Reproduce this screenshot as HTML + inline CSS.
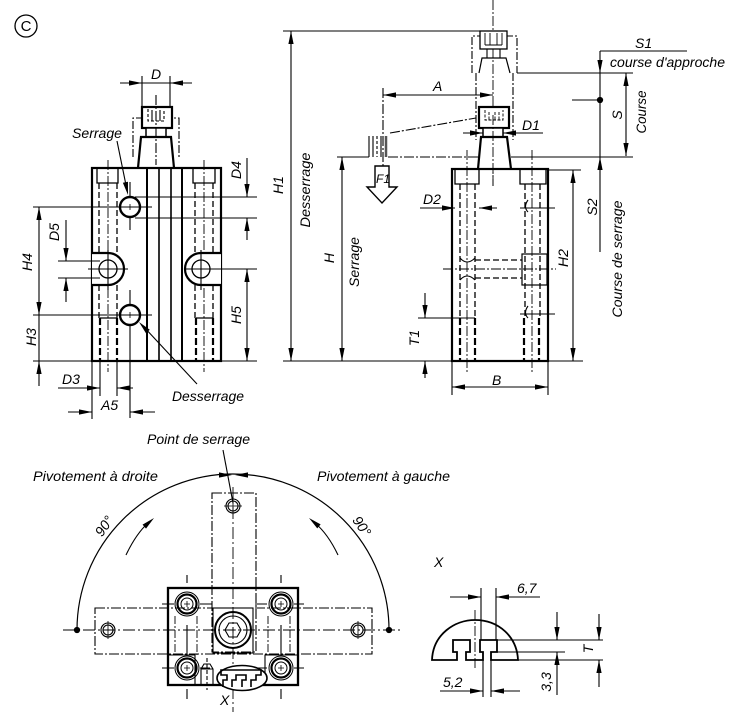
<!DOCTYPE html>
<html><head><meta charset="utf-8"><style>
html,body{margin:0;padding:0;background:#fff;}
svg{display:block;}
text{font-family:"Liberation Sans",sans-serif;font-style:italic;font-size:14px;fill:#000;stroke:none;}
</style></head><body>
<svg width="750" height="718" viewBox="0 0 750 718" xmlns="http://www.w3.org/2000/svg" xmlns:xlink="http://www.w3.org/1999/xlink">
<defs>
<path id="ah" d="M0,0 L-13,-2.6 L-13,2.6 Z" fill="#000" stroke="none"/>
</defs>
<g stroke="#000" fill="none" stroke-width="1.1">

<circle cx="26" cy="26" r="11" stroke-width="1.3"/>
<text x="26" y="31" text-anchor="middle" style="font-style:normal;font-size:15px">C</text>

<!-- LEFT VIEW -->
<line x1="142" y1="76" x2="142" y2="106"/>
<line x1="170" y1="76" x2="170" y2="106"/>
<line x1="120" y1="83" x2="192" y2="83"/>
<text x="151" y="79">D</text>
<path d="M133,157 L133,118 L179,118 L179,157" stroke-dasharray="8,2,2,2"/>
<rect x="142" y="107" width="30" height="21" stroke-width="2.2" fill="#fff"/>
<path d="M148,109 L148,121 L164,121 L164,109" stroke-dasharray="3,2"/>
<path d="M152,110v11M160,110v11"/>
<rect x="146" y="128" width="20" height="9" stroke-width="1.5" fill="#fff"/>
<path d="M138,168 L141,137 L171,137 L174,168" stroke-width="2.2" fill="#fff"/>
<line x1="156" y1="95" x2="156" y2="165" stroke-dasharray="10,2,2,2"/>
<rect x="92" y="168" width="129" height="193" stroke-width="2.2"/>
<path d="M147,168V361M182,168V361" stroke-width="2"/>
<path d="M159,168V361M171,168V361" stroke-width="1.6"/>
<path d="M97,168 L97,183 L118,183 L118,168 M193,168 L193,183 L215,183 L215,168" stroke-width="1.3"/>
<path d="M99,183V253M117,183V253M99,285V318M117,285V318M195,183V253M213,183V253M195,285V318M213,285V318" stroke-dasharray="6,3" stroke-width="1.3"/>
<path d="M100,318V361M117,318V361M196,318V361M213,318V361" stroke-dasharray="7,3" stroke-width="2.2"/>
<path d="M100,318H117M196,318H213" stroke-width="1.2"/>
<path d="M108,160V372M204,160V372" stroke-dasharray="10,2,2,2" stroke-width="0.9"/>
<path d="M92,253 L108,253 A16,16 0 0 1 108,285 L92,285" stroke-width="2.2" fill="#fff"/>
<circle cx="108" cy="269" r="9" stroke-width="1.3"/>
<path d="M221,253 L201,253 A16,16 0 0 0 201,285 L221,285" stroke-width="2.2" fill="#fff"/>
<circle cx="201" cy="269" r="9" stroke-width="1.3"/>
<path d="M88,269H128M108,250V290M185,269H257M201,250V290"/>
<circle cx="130" cy="207" r="10" stroke-width="2.4" fill="#fff"/>
<circle cx="130" cy="315" r="10" stroke-width="2.4" fill="#fff"/>
<path d="M127,207h6M130,204v6M127,315h6M130,312v6" stroke-width="0.8"/>
<path d="M130,182V196M130,218V230M130,290V304M130,326V418"/>
<text x="72" y="138" textLength="50" lengthAdjust="spacingAndGlyphs">Serrage</text>
<line x1="117" y1="141" x2="127" y2="190"/>
<text x="172" y="401" textLength="72" lengthAdjust="spacingAndGlyphs">Desserrage</text>
<line x1="197" y1="384" x2="143" y2="326"/>
<path d="M135,197H257M135,218H257M247,158V197M247,240V218"/>
<text transform="translate(236,170) rotate(-90)" text-anchor="middle" dominant-baseline="central">D4</text>
<path d="M221,361H257M247,269V361"/>
<text transform="translate(236,315) rotate(-90)" text-anchor="middle" dominant-baseline="central">H5</text>
<path d="M33,207H152M33,315H152M33,361H92M39,207V386"/>
<text transform="translate(27,262) rotate(-90)" text-anchor="middle" dominant-baseline="central">H4</text>
<text transform="translate(31,337) rotate(-90)" text-anchor="middle" dominant-baseline="central">H3</text>
<path d="M58,261H100M58,278H100M66,220V261M66,302V278"/>
<text transform="translate(54,232) rotate(-90)" text-anchor="middle" dominant-baseline="central">D5</text>
<path d="M100,361V396M117,361V396M58,388H100M133,388H117"/>
<text x="62" y="384">D3</text>
<path d="M92,361V419M68,412H92M155,412H130"/>
<text x="101" y="410">A5</text>

<!-- RIGHT VIEW -->
<line x1="493" y1="0" x2="493" y2="186" stroke-dasharray="10,2,2,2" stroke-width="0.9"/>
<path d="M472,73 L472,36 L517,36 L517,73" stroke-dasharray="8,2,2,2"/>
<rect x="480" y="31" width="27" height="18" stroke-width="1.3" fill="#fff"/>
<path d="M485,33v12M490,33v12M497,33v12M502,33v12M485,45h17" stroke-width="0.9"/>
<path d="M487,49v9M500,49v9"/>
<path d="M479,73 L482,58 L506,58 L510,73" stroke-width="1.2"/>
<path d="M476,73V140M513,73V140" stroke-dasharray="8,2,2,2"/>
<line x1="283" y1="31" x2="480" y2="31"/>
<rect x="479" y="107" width="30" height="21" stroke-width="2.2" fill="#fff"/>
<path d="M485,110v10h18v-10M489,112v8M495,112v8M499,112v8" stroke-dasharray="3,1.5" stroke-width="0.9"/>
<rect x="483" y="128" width="20" height="9" stroke-width="1.5" fill="#fff"/>
<path d="M478,169 L481,137 L507,137 L511,169" stroke-width="2.2" fill="#fff"/>
<line x1="493" y1="115" x2="493" y2="186" stroke-dasharray="10,2,2,2" stroke-width="0.9"/>
<line x1="390" y1="133" x2="476" y2="118" stroke-dasharray="10,2,2,2"/>
<path d="M369,136v21M373,136v21M381,136v21"/>
<line x1="377" y1="136" x2="377" y2="157" stroke-dasharray="3,2"/>
<line x1="386" y1="136" x2="386" y2="157" stroke="#555" stroke-width="2.5"/>
<line x1="383" y1="88" x2="383" y2="166" stroke-dasharray="10,2,2,2"/>
<line x1="383" y1="95" x2="493" y2="95"/>
<text x="433" y="91">A</text>
<path d="M337,157H369M511,157H633"/>
<line x1="388" y1="157" x2="478" y2="157" stroke-dasharray="10,2,2,2"/>
<path d="M375,166 L389,166 L389,187 L397,187 L382,203 L367,187 L375,187 Z" stroke-width="1.4" fill="#fff"/>
<text x="376" y="183" style="font-size:12px">F1</text>
<path d="M463,133H483M543,133H503"/>
<text x="522" y="130">D1</text>
<rect x="452" y="169" width="96" height="192" stroke-width="2.2"/>
<path d="M455,169 L455,184 L479,184 L479,169 M520,169 L520,184 L546,184 L546,169" stroke-width="1.3"/>
<path d="M460,184V318M475,184V318M525,184V318M540,184V318M475,260H522M475,278H522" stroke-dasharray="6,3" stroke-width="1.3"/>
<path d="M460,318V361M475,318V361M524,318V361M539,318V361" stroke-dasharray="7,3" stroke-width="2.2"/>
<path d="M460,258 Q467,266 475,258 M460,280 Q467,272 475,280"/>
<path d="M467,150V372M532,150V372M443,269H556" stroke-dasharray="10,2,2,2" stroke-width="0.9"/>
<rect x="522" y="254" width="25" height="31" stroke-width="1.2"/>
<path d="M520,208H555M520,314H555"/>
<path d="M528,200 q-5,7 0,12 M528,306 q-5,7 0,12"/>
<path d="M420,208H455M497,208H479"/>
<text x="423" y="204">D2</text>
<path d="M283,361H452M548,361H583M291,31V361"/>
<text transform="translate(278,185) rotate(-90)" text-anchor="middle" dominant-baseline="central">H1</text>
<text transform="translate(305,190) rotate(-90)" text-anchor="middle" dominant-baseline="central" textLength="75" lengthAdjust="spacingAndGlyphs">Desserrage</text>
<line x1="342" y1="157" x2="342" y2="361"/>
<text transform="translate(329,258) rotate(-90)" text-anchor="middle" dominant-baseline="central">H</text>
<text transform="translate(354,262) rotate(-90)" text-anchor="middle" dominant-baseline="central" textLength="50" lengthAdjust="spacingAndGlyphs">Serrage</text>
<path d="M418,318H475M425,293V318M425,378V361"/>
<text transform="translate(414,338) rotate(-90)" text-anchor="middle" dominant-baseline="central">T1</text>
<path d="M452,361V395M548,361V395M452,387H548"/>
<text x="492" y="385">B</text>
<path d="M548,170H581M573,170V361"/>
<text transform="translate(563,258) rotate(-90)" text-anchor="middle" dominant-baseline="central">H2</text>
<path d="M517,73H633M600,51H687M600,51V252M572,100H600M626,73V156"/>
<circle cx="600" cy="100" r="2.6" fill="#000"/>
<text x="635" y="48">S1</text>
<text x="610" y="67" textLength="115" lengthAdjust="spacingAndGlyphs">course d'approche</text>
<text transform="translate(617,115) rotate(-90)" text-anchor="middle" dominant-baseline="central">S</text>
<text transform="translate(641,112) rotate(-90)" text-anchor="middle" dominant-baseline="central" textLength="43" lengthAdjust="spacingAndGlyphs">Course</text>
<text transform="translate(592,207) rotate(-90)" text-anchor="middle" dominant-baseline="central">S2</text>
<text transform="translate(617,259) rotate(-90)" text-anchor="middle" dominant-baseline="central" textLength="117" lengthAdjust="spacingAndGlyphs">Course de serrage</text>

<!-- BOTTOM VIEW -->
<text x="147" y="444" textLength="103" lengthAdjust="spacingAndGlyphs">Point de serrage</text>
<text x="33" y="481" textLength="125" lengthAdjust="spacingAndGlyphs">Pivotement à droite</text>
<text x="317" y="481" textLength="133" lengthAdjust="spacingAndGlyphs">Pivotement à gauche</text>
<path d="M77,630 A156,156 0 0 1 389,630" stroke-width="1.2"/>
<circle cx="77" cy="630" r="2.6" fill="#000"/>
<circle cx="389" cy="630" r="2.6" fill="#000"/>
<line x1="223" y1="450" x2="233" y2="503"/>
<text transform="translate(104,526) rotate(-55)" text-anchor="middle" dominant-baseline="central">90°</text>
<text transform="translate(362,526) rotate(55)" text-anchor="middle" dominant-baseline="central">90°</text>
<path d="M126,555 Q136,534 148,523 M338,555 Q328,534 315,523"/>
<path d="M63,630H403M233,487V712" stroke-dasharray="12,3,2,3" stroke-width="0.9"/>
<rect x="212" y="493" width="44" height="159" stroke-dasharray="10,2,2,2"/>
<rect x="95" y="608" width="277" height="46" stroke-dasharray="10,2,2,2"/>
<circle cx="233" cy="506" r="7"/><circle cx="233" cy="506" r="5"/>
<circle cx="108" cy="630" r="7"/><circle cx="108" cy="630" r="5"/>
<circle cx="358" cy="630" r="7"/><circle cx="358" cy="630" r="5"/>
<path d="M233,497v18M224,506h18M108,621v18M358,621v18" stroke-width="0.8"/>
<rect x="168" y="588" width="130" height="97" stroke-width="2.3"/>
<rect x="213" y="608" width="40" height="45"/>
<circle cx="233" cy="630" r="18" stroke-width="2"/>
<circle cx="233" cy="630" r="14"/>
<polygon points="241,630 237,637 229,637 225,630 229,623 237,623"/>
<path d="M230,630h6M233,627v6" stroke-width="0.8"/>
<g id="bolt">
<circle cx="187" cy="604" r="12" stroke-width="1"/><circle cx="187" cy="604" r="9.5" stroke-width="2.2"/><circle cx="187" cy="604" r="6" stroke-width="1"/>
<path d="M184,604h6M187,601v6" stroke-width="0.8"/>
</g>
<use xlink:href="#bolt" href="#bolt" transform="translate(94,0)"/>
<use xlink:href="#bolt" href="#bolt" transform="translate(0,64)"/>
<use xlink:href="#bolt" href="#bolt" transform="translate(94,64)"/>
<path d="M187,583v-8M187,625v30M187,689v10M281,583v-8M281,625v30M281,689v10"/>
<path d="M162,604h12M200,604h12M255,604h12M294,604h10M162,668h12M200,668h10M255,668h12M294,668h10"/>
<path d="M168,655h27v30M298,655h-33v30"/>
<path d="M175,616V655M197,616V655M268,616V655M290,616V655" stroke-dasharray="8,2,2,2" stroke-width="0.9"/>
<path d="M201,684 L201,669 L204,664 L210,664 L213,669 L213,684 M201,669H213"/>
<line x1="207" y1="658" x2="207" y2="690" stroke-dasharray="4,2"/>
<ellipse cx="242" cy="678" rx="25" ry="12.5" stroke-width="1.6" fill="#fff"/>
<path d="M223,687 L223,680 L227,680 L227,675 L221,675 L221,670 L261,670 L261,675 L256,675 L256,680 L251,680 L251,687 M232,687 L232,680 L236,680 L236,675 L246,675 L246,680 L242,680 L242,687" stroke-width="1.6"/>
<text x="220" y="705">X</text>

<!-- DETAIL X -->
<text x="434" y="567">X</text>
<path d="M432,660 C433,634 455,620 475,620 C499,620 517,637 518,660 L491,660 L491,652 L497,652 L497,640 L480,640 L480,652 L483,652 L483,660 L466,660 L466,652 L470,652 L470,640 L453,640 L453,652 L457,652 L457,660 Z" stroke-width="1.8" fill="#fff"/>
<line x1="475" y1="610" x2="475" y2="668" stroke-dasharray="10,2,2,2" stroke-width="0.9"/>
<path d="M481,588V640M496,588V640M450,597H481M540,597H496"/>
<text x="517" y="593">6,7</text>
<path d="M483,652V697M491,652V697M440,691H483M520,691H491"/>
<text x="443" y="687">5,2</text>
<path d="M497,640H603M491,652H565M518,660H603M557,612V640M557,695V652M599,614V640M599,687V660"/>
<text transform="translate(546,682) rotate(-90)" text-anchor="middle" dominant-baseline="central">3,3</text>
<text transform="translate(588,649) rotate(-90)" text-anchor="middle" dominant-baseline="central">T</text>
</g>

<!-- arrowheads: translate(tip) rotate(direction) -->
<g>
<use href="#ah" xlink:href="#ah" transform="translate(142,83)"/>
<use href="#ah" xlink:href="#ah" transform="translate(170,83) rotate(180)"/>
<use href="#ah" xlink:href="#ah" transform="translate(128,195) rotate(78.5)"/>
<use href="#ah" xlink:href="#ah" transform="translate(139,322) rotate(-133)"/>
<use href="#ah" xlink:href="#ah" transform="translate(247,197) rotate(90)"/>
<use href="#ah" xlink:href="#ah" transform="translate(247,218) rotate(-90)"/>
<use href="#ah" xlink:href="#ah" transform="translate(247,269) rotate(-90)"/>
<use href="#ah" xlink:href="#ah" transform="translate(247,361) rotate(90)"/>
<use href="#ah" xlink:href="#ah" transform="translate(39,207) rotate(-90)"/>
<use href="#ah" xlink:href="#ah" transform="translate(39,315) rotate(90)"/>
<use href="#ah" xlink:href="#ah" transform="translate(39,361) rotate(-90)"/>
<use href="#ah" xlink:href="#ah" transform="translate(66,261) rotate(90)"/>
<use href="#ah" xlink:href="#ah" transform="translate(66,278) rotate(-90)"/>
<use href="#ah" xlink:href="#ah" transform="translate(100,388)"/>
<use href="#ah" xlink:href="#ah" transform="translate(117,388) rotate(180)"/>
<use href="#ah" xlink:href="#ah" transform="translate(92,412)"/>
<use href="#ah" xlink:href="#ah" transform="translate(130,412) rotate(180)"/>
<use href="#ah" xlink:href="#ah" transform="translate(383,95) rotate(180)"/>
<use href="#ah" xlink:href="#ah" transform="translate(493,95)"/>
<use href="#ah" xlink:href="#ah" transform="translate(483,133)"/>
<use href="#ah" xlink:href="#ah" transform="translate(503,133) rotate(180)"/>
<use href="#ah" xlink:href="#ah" transform="translate(455,208)"/>
<use href="#ah" xlink:href="#ah" transform="translate(479,208) rotate(180)"/>
<use href="#ah" xlink:href="#ah" transform="translate(291,31) rotate(-90)"/>
<use href="#ah" xlink:href="#ah" transform="translate(291,361) rotate(90)"/>
<use href="#ah" xlink:href="#ah" transform="translate(342,157) rotate(-90)"/>
<use href="#ah" xlink:href="#ah" transform="translate(342,361) rotate(90)"/>
<use href="#ah" xlink:href="#ah" transform="translate(425,318) rotate(90)"/>
<use href="#ah" xlink:href="#ah" transform="translate(425,361) rotate(-90)"/>
<use href="#ah" xlink:href="#ah" transform="translate(452,387) rotate(180)"/>
<use href="#ah" xlink:href="#ah" transform="translate(548,387)"/>
<use href="#ah" xlink:href="#ah" transform="translate(573,170) rotate(-90)"/>
<use href="#ah" xlink:href="#ah" transform="translate(573,361) rotate(90)"/>
<use href="#ah" xlink:href="#ah" transform="translate(600,73) rotate(90)"/>
<use href="#ah" xlink:href="#ah" transform="translate(600,157) rotate(-90)"/>
<use href="#ah" xlink:href="#ah" transform="translate(626,73) rotate(-90)"/>
<use href="#ah" xlink:href="#ah" transform="translate(626,156) rotate(90)"/>
<use href="#ah" xlink:href="#ah" transform="translate(232,475)"/>
<use href="#ah" xlink:href="#ah" transform="translate(235,475) rotate(180)"/>
<use href="#ah" xlink:href="#ah" transform="translate(154,518) rotate(-41.6)"/>
<use href="#ah" xlink:href="#ah" transform="translate(309,518) rotate(-139.9)"/>
<use href="#ah" xlink:href="#ah" transform="translate(481,597)"/>
<use href="#ah" xlink:href="#ah" transform="translate(496,597) rotate(180)"/>
<use href="#ah" xlink:href="#ah" transform="translate(483,691)"/>
<use href="#ah" xlink:href="#ah" transform="translate(491,691) rotate(180)"/>
<use href="#ah" xlink:href="#ah" transform="translate(557,640) rotate(90)"/>
<use href="#ah" xlink:href="#ah" transform="translate(557,652) rotate(-90)"/>
<use href="#ah" xlink:href="#ah" transform="translate(599,640) rotate(90)"/>
<use href="#ah" xlink:href="#ah" transform="translate(599,660) rotate(-90)"/>
</g>
</svg>
</body></html>
